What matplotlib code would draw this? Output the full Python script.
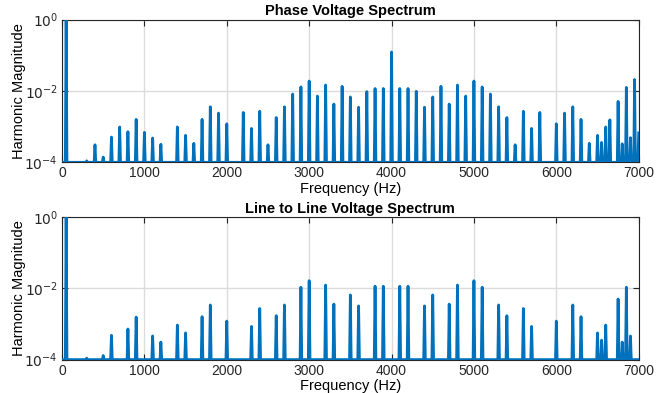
import numpy as np
import matplotlib
matplotlib.use("Agg")
import matplotlib.pyplot as plt

# harmonic frequencies (Hz) and normalised magnitudes
phase_freq = [50, 300, 400, 500, 600, 700, 800, 900, 1000, 1100, 1200,
              1400, 1500, 1600, 1700, 1800, 1900, 2000, 2200, 2300, 2400,
              2500, 2600, 2700, 2800, 2900, 3000, 3100, 3200, 3300, 3400,
              3500, 3600, 3700, 3800, 3900, 4000, 4100, 4200, 4300, 4400,
              4500, 4600, 4700, 4800, 4900, 5000, 5100, 5200, 5300, 5400,
              5500, 5600, 5700, 5800, 6000, 6100, 6200, 6300, 6400, 6500,
              6550, 6600, 6650, 6750, 6800, 6850, 6900, 6950, 7000]
phase_mag = [1.0, 1.1e-4, 3.1e-4, 1.4e-4, 5.1e-4, 9.8e-4, 7.2e-4, 1.6e-3, 6.9e-4, 4.8e-4, 3.2e-4,
             9.8e-4, 5.7e-4, 3.4e-4, 1.6e-3, 3.6e-3, 2.4e-3, 1.2e-3, 2.5e-3, 8.9e-4, 2.7e-3,
             3.1e-4, 1.8e-3, 3.6e-3, 8.2e-3, 0.013, 0.019, 7.2e-3, 0.0147, 4.3e-3, 0.0135,
             6.8e-3, 3.5e-3, 9.6e-3, 0.0117, 0.0117, 0.124, 0.0117, 0.0117, 9.8e-3, 3.5e-3,
             6.8e-3, 0.0135, 4.3e-3, 0.0147, 7.2e-3, 0.019, 0.013, 8.2e-3, 3.6e-3, 1.8e-3,
             3.1e-4, 2.7e-3, 8.9e-4, 2.5e-3, 1.2e-3, 2.4e-3, 3.6e-3, 1.6e-3, 3.4e-4, 5.7e-4,
             3.6e-4, 9.8e-4, 1.55e-3, 5.1e-3, 3.3e-4, 0.0126, 4.9e-4, 0.021, 6.7e-4]

line_freq = [50, 300, 500, 600, 800, 900, 1100, 1200, 1400, 1500, 1700,
             1800, 2000, 2300, 2400, 2600, 2700, 2900, 3000, 3200, 3300,
             3500, 3600, 3800, 3900, 4100, 4200, 4400, 4500, 4700, 4800,
             5000, 5100, 5300, 5400, 5600, 5700, 6000, 6200, 6300, 6500,
             6550, 6600, 6750, 6800, 6850, 6900]
line_mag = [1.0, 1.1e-4, 1.3e-4, 4.8e-4, 7.2e-4, 1.55e-3, 4.6e-4, 3.1e-4, 9.3e-4, 5.6e-4, 1.6e-3,
            3.4e-3, 1.2e-3, 8.5e-4, 2.7e-3, 1.7e-3, 3.4e-3, 0.0107, 0.0163, 0.0123, 3.6e-3,
            6.5e-3, 3.2e-3, 0.0114, 0.0114, 0.0114, 0.0114, 3.2e-3, 6.5e-3, 3.6e-3, 0.0123,
            0.0163, 0.0107, 3.4e-3, 1.7e-3, 2.7e-3, 8.5e-4, 1.2e-3, 3.4e-3, 1.6e-3, 5.6e-4,
            3.5e-4, 9.3e-4, 5.0e-3, 3.1e-4, 0.0107, 4.6e-4]

titles = ["Phase Voltage Spectrum", "Line to Line Voltage Spectrum"]

freq_step = 10
floor = 1e-4


def make_spectrum(freqs, mags):
    f = np.arange(0, 7000 + freq_step, freq_step)
    m = np.full(f.shape, floor)
    for fr, v in zip(freqs, mags):
        m[int(round(fr / freq_step))] = v
    return f, m


plt.rcParams['font.family'] = ['Liberation Sans', 'DejaVu Sans']

fig = plt.figure(figsize=(6.69, 3.93), dpi=100)
ax1 = fig.add_axes([0.0927, 0.587, 0.862, 0.363])
ax2 = fig.add_axes([0.0927, 0.085, 0.862, 0.363])

for ax, freqs, mags, title in [(ax1, phase_freq, phase_mag, titles[0]),
                               (ax2, line_freq, line_mag, titles[1])]:
    f, m = make_spectrum(freqs, mags)
    ax.semilogy(f, m, color='#0072BD', linewidth=2.0, zorder=3)
    ax.set_xlim(0, 7000)
    ax.set_ylim(1e-4, 1)
    ax.set_xticks(range(0, 7001, 1000))
    ax.set_yticks([1e-4, 1e-2, 1])
    ax.set_yticklabels(['$10^{-4}$', '$10^{-2}$', '$10^{0}$'])
    ax.minorticks_off()
    ax.grid(True, color='#dcdcdc', linewidth=1.0, zorder=0)
    ax.set_axisbelow(True)
    ax.tick_params(direction='in', top=True, right=True, length=4,
                   labelsize=10, colors='#262626', pad=3)
    for sp in ax.spines.values():
        sp.set_color('#262626')
        sp.set_linewidth(0.8)
    ax.set_title(title, fontsize=10.5, fontweight='bold', pad=3)
    ax.set_xlabel("Frequency (Hz)", fontsize=10.5, labelpad=1)
    ax.set_ylabel("Harmonic Magnitude", fontsize=10.5, labelpad=-1)

fig.savefig("out.png", dpi=100)
